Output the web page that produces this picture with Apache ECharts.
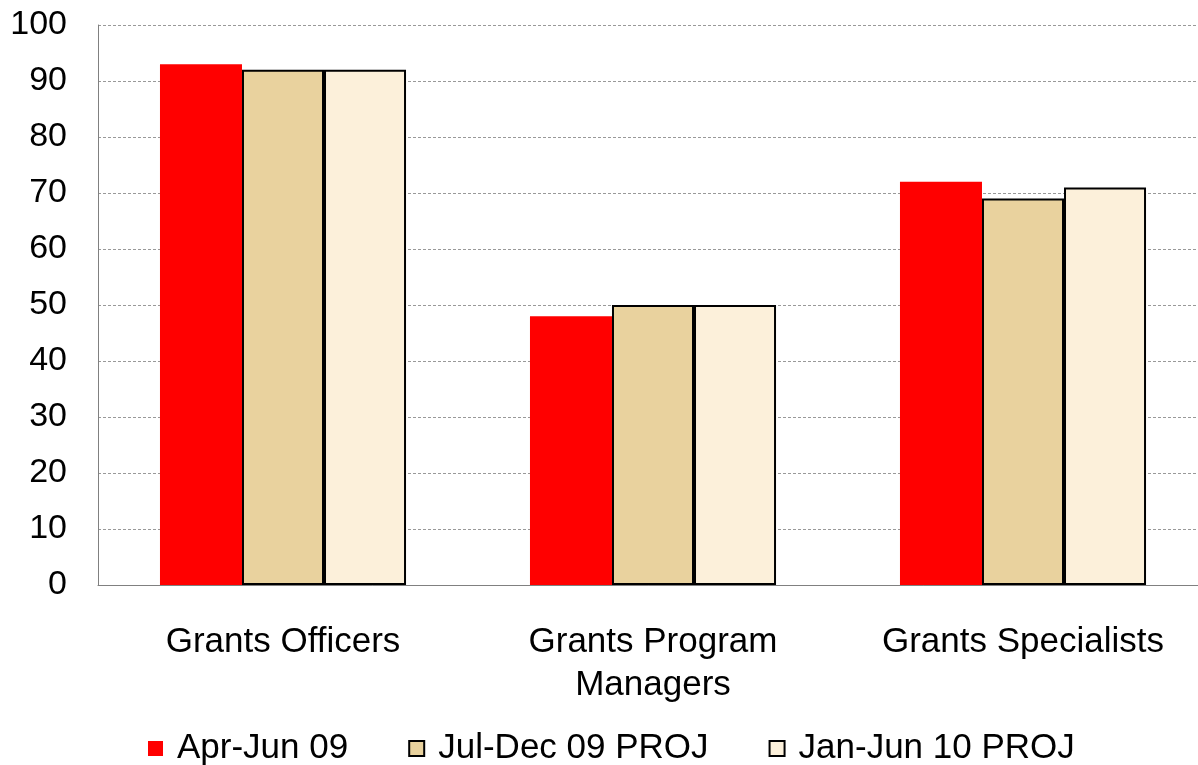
<!DOCTYPE html>
<html>
<head>
<meta charset="utf-8">
<script src="https://cdn.jsdelivr.net/npm/echarts@6/dist/echarts.min.js"></script>
<style>
  html, body { margin: 0; padding: 0; background: #fff; }
  #chart { width: 1198px; height: 765px; }
</style>
</head>
<body>
<div id="chart"></div>
<script>
const categories = ["Grants Officers", "Grants Program\nManagers", "Grants Specialists"];
const seriesNames = ["Apr-Jun 09", "Jul-Dec 09 PROJ", "Jan-Jun 10 PROJ"];
const aprJun09 = [93, 48, 72];
const julDec09 = [92, 50, 69];
const janJun10 = [92, 50, 71];
const yTicks = [0, 10, 20, 30, 40, 50, 60, 70, 80, 90, 100];

const chart = echarts.init(document.getElementById("chart"));
const font = "Liberation Sans, Arial, sans-serif";

chart.setOption({
  animation: false,
  textStyle: { fontFamily: font },
  grid: { left: 98, width: 1110, top: 25, height: 560, outerBoundsMode: "none" },
  legend: {
    top: 726,
    left: 143,
    itemGap: 60,
    itemWidth: 15,
    itemHeight: 15,
    icon: "rect",
    textStyle: { fontSize: 35, color: "#000", fontFamily: font, padding: [0, 0, 0, 9] },
    data: seriesNames
  },
  xAxis: {
    type: "category",
    data: categories,
    axisLine: { lineStyle: { color: "#808080", width: 1 } },
    axisTick: { show: false },
    axisLabel: { fontSize: 35, color: "#000", margin: 36, lineHeight: 43 }
  },
  yAxis: {
    type: "value",
    min: yTicks[0],
    max: yTicks[yTicks.length - 1],
    interval: 10,
    axisLine: { show: true, lineStyle: { color: "#808080", width: 1 } },
    axisTick: { show: false },
    axisLabel: { fontSize: 34, color: "#000", margin: 31 },
    splitLine: { lineStyle: { color: "#999", type: [3, 2], width: 1 } }
  },
  series: [
    {
      name: seriesNames[0],
      type: "bar",
      data: aprJun09,
      barGap: "0%",
      barCategoryGap: "33.5%",
      itemStyle: { color: "#ff0000" }
    },
    {
      name: seriesNames[1],
      type: "bar",
      data: julDec09,
      itemStyle: { color: "#e9d29e", borderColor: "#000", borderWidth: 2 }
    },
    {
      name: seriesNames[2],
      type: "bar",
      data: janJun10,
      itemStyle: { color: "#fcf0da", borderColor: "#000", borderWidth: 2 }
    }
  ]
});
</script>
</body>
</html>
